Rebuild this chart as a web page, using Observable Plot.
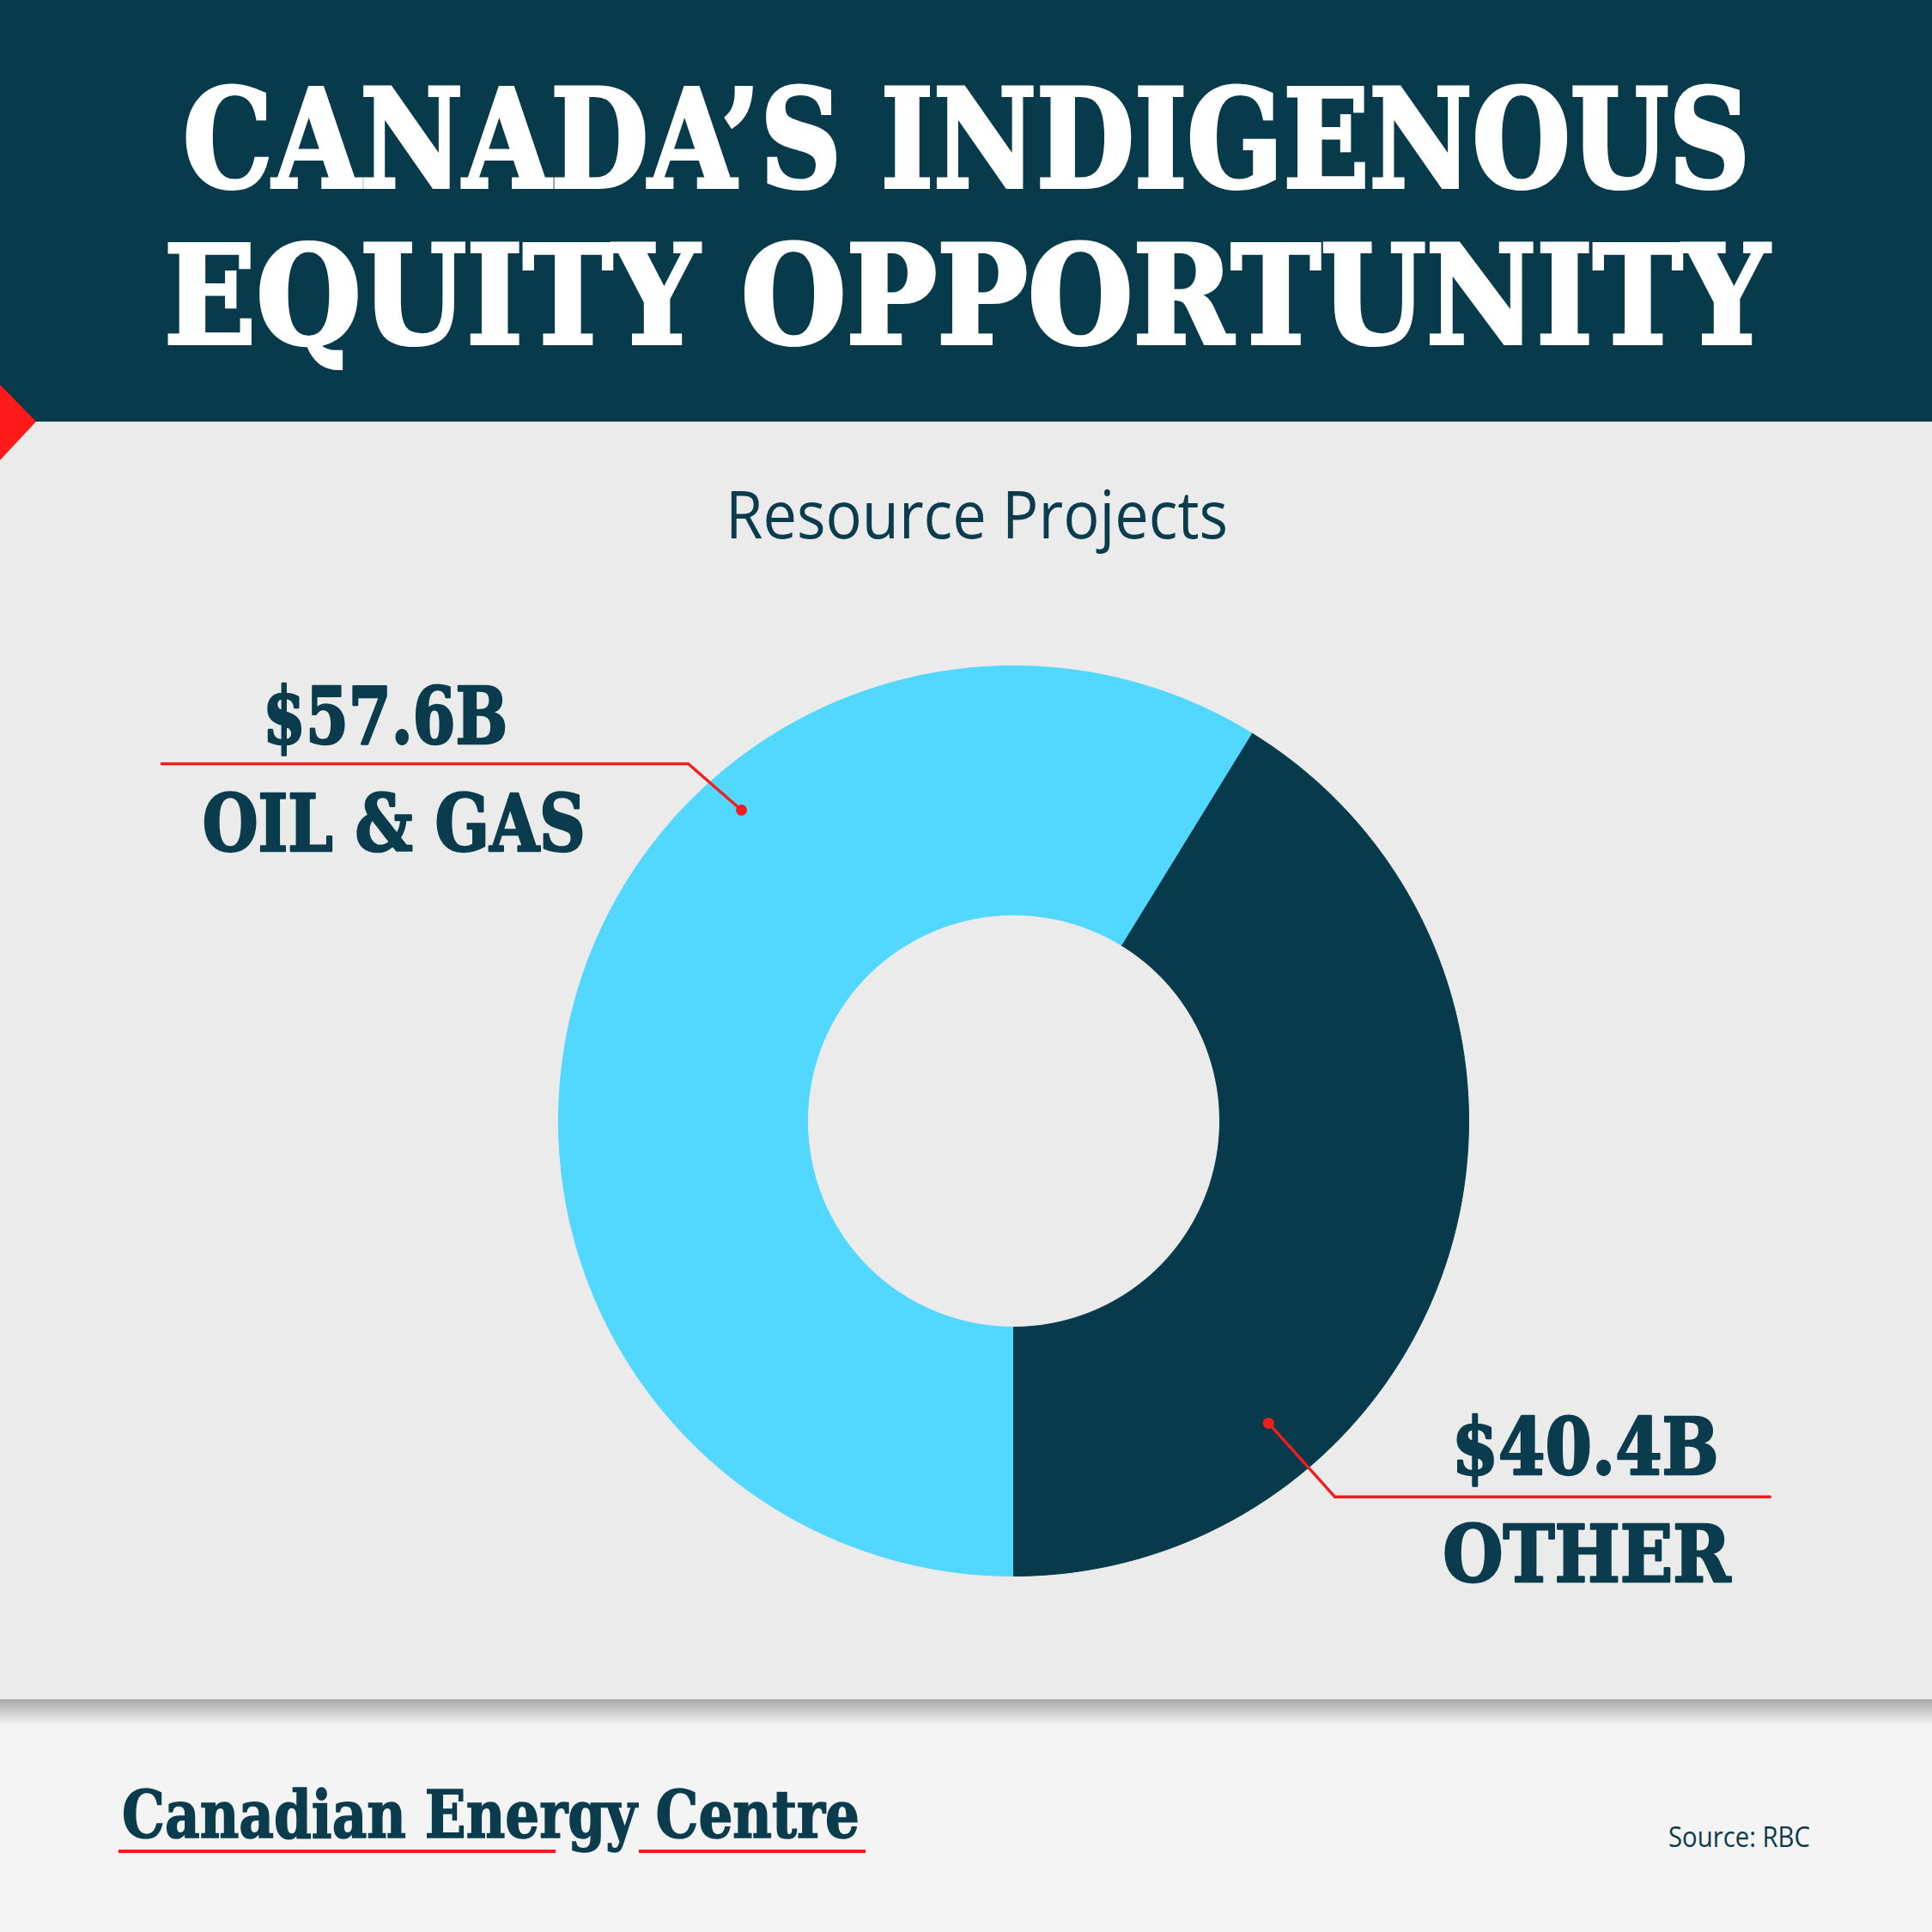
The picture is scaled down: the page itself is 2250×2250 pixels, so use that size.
<!DOCTYPE html>
<html><head><meta charset="utf-8">
<script src="https://cdn.jsdelivr.net/npm/d3@7"></script>
<script src="https://cdn.jsdelivr.net/npm/@observablehq/plot@0.6"></script>
<style>
html,body{margin:0;padding:0;background:#f4f4f4;}
#page{position:relative;width:2250px;height:2250px;overflow:hidden;background:#f4f4f4;}
#header{position:absolute;left:0;top:0;width:2250px;height:491px;background:#073b4c;}
#panel{position:absolute;left:0;top:491px;width:2250px;height:1488px;background:#ebebeb;}
#shadow{position:absolute;left:0;top:1979px;width:2250px;height:30px;background:linear-gradient(#a9a9a9,rgba(244,244,244,0));}
#tri{position:absolute;left:0;top:0;width:60px;height:600px;background:#ff1a1a;clip-path:polygon(0 448px,42px 491px,0 536px);}
.fit{position:absolute;left:0;top:0;white-space:nowrap;transform-origin:0 0;line-height:1;}
.t{display:inline-block;}
.m{display:inline-block;width:0;height:0;}
.serif{font-family:"DejaVu Serif Condensed","DejaVu Serif",serif;font-stretch:condensed;font-weight:bold;}
.title{color:#ffffff;font-size:160px;-webkit-text-stroke:4px #ffffff;}
#sub{font-family:"Open Sans",sans-serif;font-size:76px;color:#0a3c4d;}
#logo{font-size:77px;color:#0a3c4d;-webkit-text-stroke:1.5px #0a3c4d;}
#source{font-family:"Open Sans",sans-serif;font-size:32px;color:#0a3c4d;}
.ul{position:absolute;height:4px;background:#f01c1c;top:2154px;}
#chart{position:absolute;left:0;top:680px;}
</style>
</head>
<body>
<div id="page">
  <div id="header"></div>
  <div id="panel"></div>
  <div id="shadow"></div>
  <div id="tri"></div>
  <div class="fit title serif" id="t1"><span class="t">CANADA’S INDIGENOUS</span><span class="m"></span></div>
  <div class="fit title serif" id="t2"><span class="t">EQUITY OPPORTUNITY</span><span class="m"></span></div>
  <div class="fit" id="sub"><span class="t">Resource Projects</span><span class="m"></span></div>
  <div id="chart"></div>
  <div class="fit serif" id="logo"><span class="t">Canadian Energy Centre</span><span class="m"></span></div>
  <div class="ul" style="left:138px;width:509px;"></div>
  <div class="ul" style="left:744px;width:264px;"></div>
  <div class="fit" id="source"><span class="t">Source: RBC</span><span class="m"></span></div>
</div>
<script>
// ---- data ----
const categories = ["Oil & Gas", "Other"];
const values = [57.6, 40.4];
const valueLabels = ["$57.6B", "$40.4B"];
const nameLabels = ["OIL & GAS", "OTHER"];
const colors = ["#52d8fe", "#073b4c"];

// ---- layout (unit = outer radius) ----
const W = 2250, H = 1299, CX = 1180, CY = 625, R = 530;
const INNER = 240 / 530;
const leaderLayout = [
  {dot: [-0.598, 0.683], elbow: [-0.715, 0.785], end: [-1.872, 0.785],
   value: [-1.381, 0.830], name: [-1.362, 0.594], valueWidth: 285, nameWidth: 446},
  {dot: [0.560, -0.664], elbow: [0.706, -0.826], end: [1.662, -0.826],
   value: [1.256, -0.777], name: [1.259, -1.013], valueWidth: 311, nameWidth: 335}
];
const RED = "#f21d1d";
const TEXT = "#0a3c4d";

// ---- donut geometry from d3.pie ----
const arcs = d3.pie().sort(null).startAngle(Math.PI).endAngle(3 * Math.PI)(values);
const ring = [];
arcs.forEach((a, i) => {
  const n = 300;
  for (let k = 0; k <= n; k++) {
    const t = a.startAngle + (a.endAngle - a.startAngle) * k / n;
    ring.push({cat: categories[i], x: Math.sin(t), y: Math.cos(t)});
  }
  for (let k = n; k >= 0; k--) {
    const t = a.startAngle + (a.endAngle - a.startAngle) * k / n;
    ring.push({cat: categories[i], x: INNER * Math.sin(t), y: INNER * Math.cos(t)});
  }
});

const leaders = [];
const dots = [];
const labels = [];
const widths = [];
categories.forEach((c, i) => {
  const L = leaderLayout[i];
  [L.end, L.elbow, L.dot].forEach(p => leaders.push({cat: c, x: p[0], y: p[1]}));
  dots.push({cat: c, x: L.dot[0], y: L.dot[1]});
  labels.push({x: L.value[0], y: L.value[1], text: valueLabels[i]}); widths.push(L.valueWidth);
  labels.push({x: L.name[0], y: L.name[1], text: nameLabels[i]}); widths.push(L.nameWidth);
});

const chart = Plot.plot({
  width: W, height: H, margin: 0,
  x: {domain: [-CX / R, (W - CX) / R], axis: null},
  y: {domain: [-(H - CY) / R, CY / R], axis: null},
  style: {background: "transparent", overflow: "visible"},
  marks: [
    ...categories.map((c, i) => Plot.line(ring.filter(d => d.cat === c),
      {x: "x", y: "y", fill: colors[i], stroke: colors[i], strokeWidth: 1})),
    Plot.line(leaders, {x: "x", y: "y", z: "cat", stroke: RED, strokeWidth: 3.4}),
    Plot.dot(dots, {x: "x", y: "y", r: 6.5, fill: RED, stroke: "none"}),
    Plot.text(labels, {x: "x", y: "y", text: "text", textAnchor: "middle", lineAnchor: "bottom",
      fontSize: 91, fontFamily: "DejaVu Serif Condensed, DejaVu Serif, serif", fontWeight: "bold",
      fill: TEXT, stroke: TEXT, strokeWidth: 2.5})
  ]
});
document.getElementById("chart").appendChild(chart);
chart.querySelectorAll('g[aria-label="text"] text').forEach((t, i) => {
  t.setAttribute("textLength", widths[i]);
  t.setAttribute("lengthAdjust", "spacingAndGlyphs");
  t.style.fontStretch = "condensed";
});

// ---- fit HTML texts ----
function fit(id, left, right, baseline) {
  const el = document.getElementById(id);
  const t = el.querySelector(".t"), m = el.querySelector(".m");
  const w = t.getBoundingClientRect().width;
  const b = m.getBoundingClientRect().top;
  el.style.transform = `scaleX(${(right - left) / w})`;
  el.style.left = left + "px";
  el.style.top = (baseline - b) + "px";
}
fit("t1", 213, 2038, 218);
fit("t2", 191, 2060, 400);
fit("sub", 845, 1430, 627);
fit("logo", 142, 1001, 2140);
fit("source", 1943, 2108, 2151);
</script>
</body></html>
